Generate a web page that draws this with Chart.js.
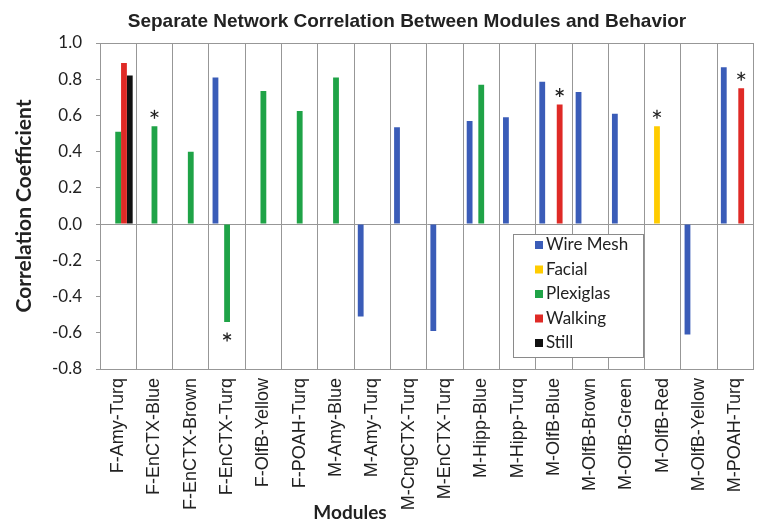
<!DOCTYPE html>
<html>
<head>
<meta charset="utf-8">
<script src="https://cdn.jsdelivr.net/npm/chart.js@4/dist/chart.umd.min.js"></script>
<style>
  html, body { margin: 0; padding: 0; overflow: hidden; background: #fff; }
  #wrap { width: 766px; height: 524px; }
</style>
</head>
<body>
<div id="wrap"><canvas id="corrChart"></canvas></div>
<script>
const modules = [
    'F-Amy-Turq', 'F-EnCTX-Blue', 'F-EnCTX-Brown', 'F-EnCTX-Turq', 'F-OlfB-Yellow',
    'F-POAH-Turq', 'M-Amy-Blue', 'M-Amy-Turq', 'M-CngCTX-Turq', 'M-EnCTX-Turq',
    'M-Hipp-Blue', 'M-Hipp-Turq', 'M-OlfB-Blue', 'M-OlfB-Brown', 'M-OlfB-Green',
    'M-OlfB-Red', 'M-OlfB-Yellow', 'M-POAH-Turq'
];

// one value per module, null where the module has no bar for that condition
const wireMesh  = [null, null, null, 0.81, null, null, null, -0.51, 0.535, -0.59, 0.57, 0.59, 0.786, 0.73, 0.61, null, -0.61, 0.866];
const facial    = [null, null, null, null, null, null, null, null, null, null, null, null, null, null, null, 0.54, null, null];
const plexiglas = [0.51, 0.54, 0.40, -0.54, 0.735, 0.625, 0.81, null, null, null, 0.77, null, null, null, null, null, null, null];
const walking   = [0.89, null, null, null, null, null, null, null, null, null, null, null, 0.66, null, null, null, null, 0.75];
const still     = [0.82, null, null, null, null, null, null, null, null, null, null, null, null, null, null, null, null, null];

const yTicks = [-0.8, -0.6, -0.4, -0.2, 0.0, 0.2, 0.4, 0.6, 0.8, 1.0];

// significant correlations: [module index, series label]
const stars = [[1, 'Plexiglas'], [3, 'Plexiglas'], [12, 'Walking'], [15, 'Facial'], [17, 'Walking']];

let blue = '#3a5cb8';
let yellow = '#ffcc00';
let green = '#1fa347';
let red = '#df2a26';
let black = '#111111';
let gridGray = '#979797';

// title, axis label "Modules", legend box and asterisks
const extras = {
    id: 'extras',
    afterDraw(chart) {
        const c = chart.ctx;
        const area = chart.chartArea;
        c.save();

        c.fillStyle = '#222';
        c.font = 'bold 19px "Liberation Sans", Arial';
        c.textAlign = 'center';
        c.textBaseline = 'alphabetic';
        c.fillText('Separate Network Correlation Between Modules and Behavior', 407, 27);

        c.font = 'bold 19px Lato';
        c.textBaseline = 'middle';
        c.fillText('Modules', 350, 513);

        // asterisks
        c.strokeStyle = '#222';
        c.lineWidth = 1.3;
        stars.forEach(([idx, label]) => {
            const dsIndex = chart.data.datasets.findIndex(d => d.label === label);
            const bar = chart.getDatasetMeta(dsIndex).data[idx];
            const v = chart.data.datasets[dsIndex].data[idx];
            const cy = v >= 0 ? bar.y - 12 : bar.y + 15;
            const cx = bar.x;
            for (let k = 0; k < 3; k++) {
                const a = Math.PI / 2 + k * Math.PI / 3;
                c.beginPath();
                c.moveTo(cx - 4.5 * Math.cos(a), cy - 4.5 * Math.sin(a));
                c.lineTo(cx + 4.5 * Math.cos(a), cy + 4.5 * Math.sin(a));
                c.stroke();
            }
        });

        // legend
        const lx = area.left + 413, ly = area.top + 191;
        c.fillStyle = '#fff';
        c.fillRect(lx, ly, 130, 123);
        c.strokeStyle = '#8a8a8a';
        c.lineWidth = 1;
        c.strokeRect(lx + 0.5, ly + 0.5, 130, 123);
        c.font = '17px Lato';
        c.textAlign = 'left';
        chart.data.datasets.forEach((ds, i) => {
            const ry = ly + 11 + i * 24.5;
            c.fillStyle = ds.backgroundColor;
            c.fillRect(lx + 22, ry - 4, 8, 8);
            c.fillStyle = '#222';
            c.fillText(ds.label, lx + 33, ry);
        });

        c.restore();
    }
};

const ctx = document.getElementById('corrChart').getContext('2d');

const myChart = new Chart(ctx, {
    type: 'bar',
    data: {
        labels: modules,
        datasets: [
            { label: 'Wire Mesh', data: wireMesh, backgroundColor: blue },
            { label: 'Facial', data: facial, backgroundColor: yellow },
            { label: 'Plexiglas', data: plexiglas, backgroundColor: green },
            { label: 'Walking', data: walking, backgroundColor: red },
            { label: 'Still', data: still, backgroundColor: black },
        ].map(ds => Object.assign(ds, {
            categoryPercentage: 0.8,
            barPercentage: 1.0,
        }))
    },
    options: {
        responsive: true,
        maintainAspectRatio: false,
        animation: false,
        layout: {
            padding: { top: 43, right: 0, bottom: 0, left: 0 }
        },
        plugins: {
            legend: { display: false },
            title: { display: false },
            tooltip: { enabled: false },
        },
        scales: {
            x: {
                grid: {
                    color: gridGray,
                    drawTicks: false,
                },
                border: { color: gridGray },
                ticks: {
                    minRotation: 90,
                    maxRotation: 90,
                    padding: 9,
                    color: '#222',
                    font: { family: '"Liberation Sans", Arial', size: 18 },
                },
                afterFit(scale) {
                    scale.height = 155;
                }
            },
            y: {
                min: -0.8,
                max: 1.0,
                afterBuildTicks(scale) {
                    scale.ticks = yTicks.map(v => ({ value: v }));
                },
                grid: {
                    color: c => (c.tick && (Math.abs(c.tick.value) < 1e-9 || c.tick.value === 1)) ? gridGray : 'rgba(0,0,0,0)',
                    tickColor: gridGray,
                    tickLength: 4,
                },
                border: { color: gridGray },
                ticks: {
                    padding: 14,
                    color: '#222',
                    font: { family: 'Lato', size: 17 },
                    callback: v => Math.abs(v) < 1e-9 ? '0.0' : Number(v).toFixed(1),
                },
                title: {
                    display: true,
                    text: 'Correlation Coefficient',
                    color: '#222',
                    font: { family: 'Lato', size: 21, weight: 'bold' },
                    padding: { top: 12, bottom: 0 },
                },
                afterFit(scale) {
                    scale.width = 100;
                }
            }
        }
    },
    plugins: [extras]
});
</script>
</body>
</html>
